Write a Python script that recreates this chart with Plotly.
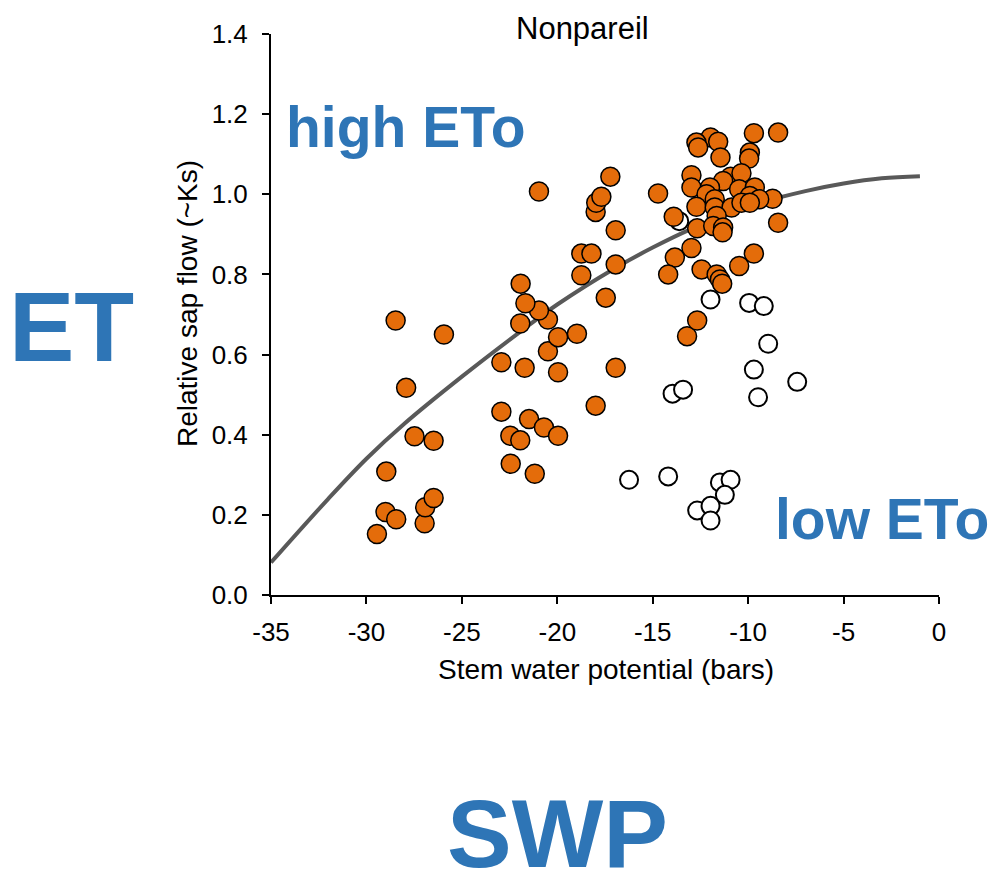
import plotly.graph_objects as go

# ---- data ----
orange_x = [-29.45, -29.0, -28.96, -28.44, -28.47, -27.92, -27.48, -26.95, -26.92, -26.48, -26.48, -25.94,
            -22.93, -22.93, -22.46, -22.44, -21.94, -21.48, -21.18, -20.7, -19.96, -19.96, -21.71, -20.49,
            -19.96, -18.97, -21.94, -20.49, -20.96, -21.67, -21.92, -20.96, -18.74, -18.74, -18.21, -17.99,
            -17.99, -17.96, -17.69, -17.22, -17.46, -16.94, -16.94, -16.94,
            -14.72, -13.9, -13.84, -14.19, -13.2, -12.67, -12.44, -12.97, -12.67,
            -11.65, -11.48, -11.36, -10.47, -9.7, -8.43, -8.72,
            -9.7, -8.43, -11.97, -11.57, -12.71, -12.62, -9.91, -9.95, -11.45, -12.97, -12.97, -10.92,
            -10.35, -11.31, -12.0, -10.47, -9.65, -9.91, -9.42, -12.18, -11.75, -12.71, -11.75, -10.87,
            -10.35, -9.91, -11.65, -11.83, -11.31, -11.34]
orange_y = [0.152, 0.207, 0.308, 0.189, 0.685, 0.517, 0.396, 0.179, 0.219, 0.242, 0.385, 0.650,
            0.4575, 0.581, 0.3975, 0.3275, 0.386, 0.439, 0.3025, 0.418, 0.3975, 0.556, 0.567, 0.608,
            0.6435, 0.652, 0.6775, 0.6875, 0.710, 0.728, 0.777, 1.007, 0.798, 0.852, 0.852, 0.4725,
            0.956, 0.979, 0.994, 1.044, 0.742, 0.910, 0.825, 0.567,
            1.002, 0.944, 0.842, 0.800, 0.646, 0.685, 0.8125, 0.866, 0.915,
            0.800, 0.7875, 0.777, 0.821, 0.852, 0.929, 0.989,
            1.1525, 1.154, 1.142, 1.131, 1.129, 1.117, 1.104, 1.089, 1.092, 1.0475, 1.017, 1.044,
            1.0525, 1.033, 1.017, 1.0125, 1.017, 0.996, 0.9875, 1.000, 0.9875, 0.969, 0.967, 0.967,
            0.979, 0.979, 0.946, 0.921, 0.917, 0.905]

white_x = [-11.97, -9.95, -9.18, -8.95, -9.7, -7.43, -9.48, -13.96, -13.41, -16.24, -14.19,
           -11.48, -10.92, -11.22, -12.67, -11.97, -11.97, -13.61]
white_y = [0.7375, 0.729, 0.721, 0.627, 0.5625, 0.532, 0.4935, 0.5025, 0.5125, 0.2875, 0.296,
           0.281, 0.2875, 0.250, 0.211, 0.2225, 0.186, 0.933]

curve_x = [-35, -32, -30, -28, -25, -22, -20, -17, -15, -13, -10, -7, -5, -3, -1]
curve_y = [0.081, 0.24, 0.34, 0.428, 0.545, 0.655, 0.725, 0.815, 0.867, 0.913, 0.97, 1.008, 1.027, 1.04, 1.045]

x_ticks = [-35, -30, -25, -20, -15, -10, -5, 0]
y_ticks = [0.0, 0.2, 0.4, 0.6, 0.8, 1.0, 1.2, 1.4]

title_text = "Nonpareil"
x_title = "Stem water potential (bars)"
y_title = "Relative sap flow (~Ks)"

# ---- layout geometry (pixels) ----
W, H = 992, 873
L, R, T, B = 271, 939, 34, 595
FONT = "Arial, Liberation Sans, sans-serif"
BLUE = "#2E75B6"


def px_x(px):
    return (px - L) / (R - L)


def px_y(py):
    return (B - py) / (B - T)


fig = go.Figure()
fig.add_trace(go.Scatter(x=curve_x, y=curve_y, mode="lines",
                         line=dict(color="#595959", width=4, shape="spline", smoothing=1.0),
                         hoverinfo="skip", showlegend=False))
fig.add_trace(go.Scatter(x=white_x, y=white_y, mode="markers",
                         marker=dict(size=18, color="white", line=dict(color="black", width=2)),
                         showlegend=False, cliponaxis=False))
fig.add_trace(go.Scatter(x=orange_x, y=orange_y, mode="markers",
                         marker=dict(size=19, color="#E46C0A", line=dict(color="black", width=1.5)),
                         showlegend=False, cliponaxis=False))

axis_common = dict(showgrid=False, zeroline=False, showline=True, linecolor="black", linewidth=2,
                   ticks="outside", ticklen=7, tickwidth=2, tickcolor="black",
                   tickfont=dict(family=FONT, size=26, color="black"))

fig.update_xaxes(range=[-35, 0], tickvals=x_ticks, ticktext=[str(v) for v in x_ticks],
                 ticklabelstandoff=6, **axis_common)
fig.update_yaxes(range=[0, 1.4], tickvals=y_ticks, ticktext=[f"{v:.1f}" for v in y_ticks],
                 ticklabelstandoff=9, **axis_common)

annotations = [
    dict(text=title_text, x=px_x(582), y=px_y(29), font=dict(size=31, color="black")),
    dict(text=x_title, x=px_x(606), y=px_y(669), font=dict(size=28, color="black")),
    dict(text=y_title, x=px_x(187), y=px_y(304), textangle=-90, font=dict(size=28, color="black")),
    dict(text="<b>high ETo</b>", x=px_x(406), y=px_y(127), font=dict(size=57, color=BLUE)),
    dict(text="<b>low ETo</b>", x=px_x(882), y=px_y(519), font=dict(size=57, color=BLUE)),
    dict(text="<b>ET</b>", x=px_x(71), y=px_y(327), font=dict(size=98, color=BLUE)),
    dict(text="<b>SWP</b>", x=px_x(557), y=px_y(833), font=dict(size=97, color=BLUE)),
]
for a in annotations:
    a.update(xref="paper", yref="paper", showarrow=False, xanchor="center", yanchor="middle")
    a["font"]["family"] = FONT

fig.update_layout(width=W, height=H, margin=dict(l=L, r=W - R, t=T, b=H - B, pad=0),
                  plot_bgcolor="white", paper_bgcolor="white", annotations=annotations,
                  font=dict(family=FONT))

fig.write_html("out.html")
